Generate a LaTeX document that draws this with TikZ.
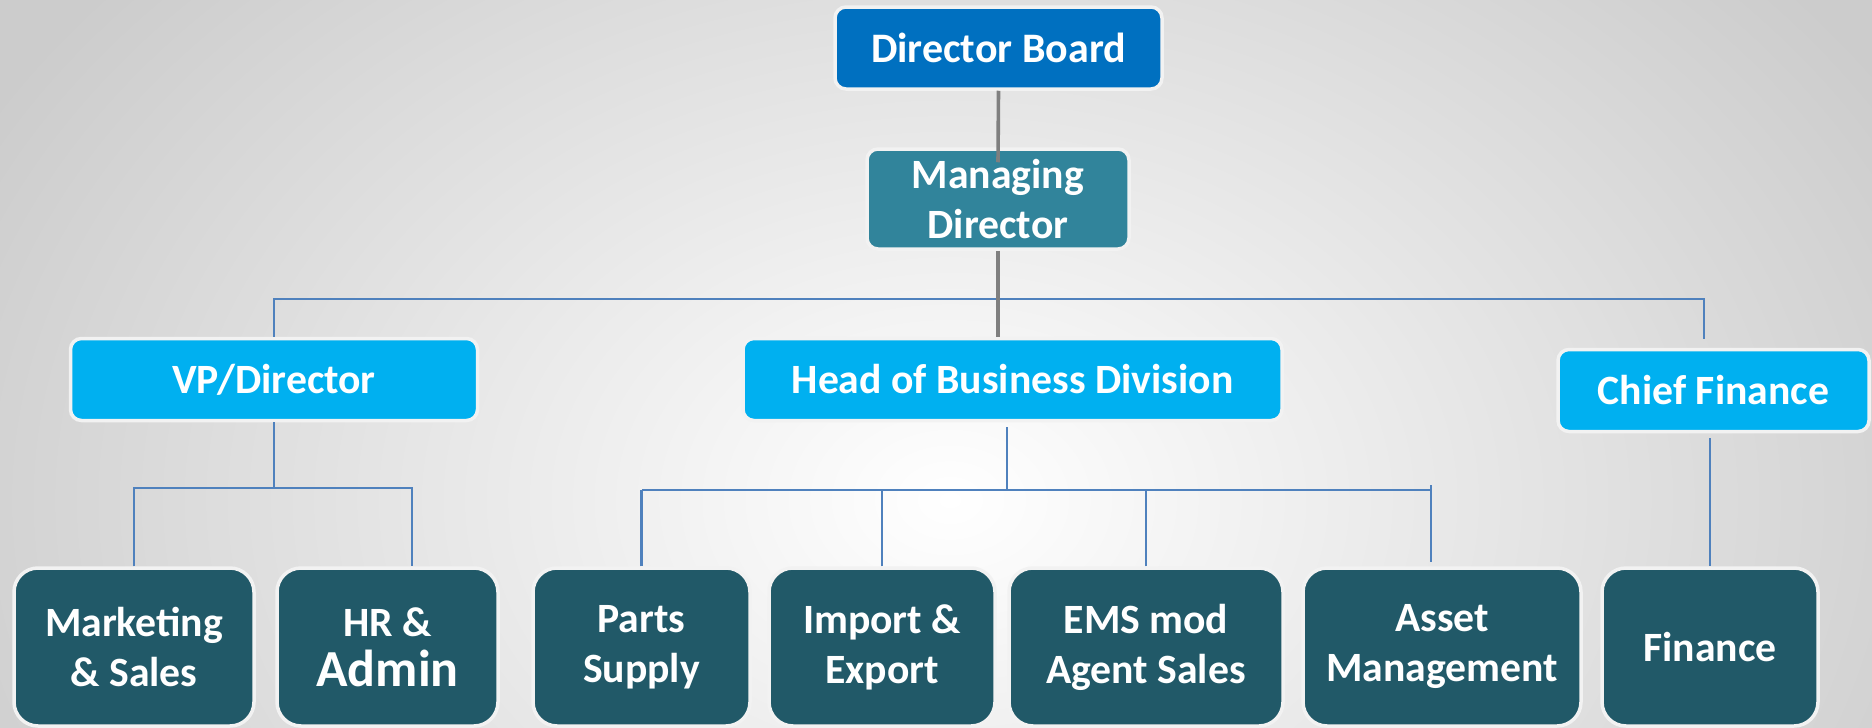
\documentclass[tikz,border=0pt]{standalone}
\usepackage{fontspec}
\setmainfont{Carlito}
\definecolor{dbblue}{HTML}{0070C0}
\definecolor{mdteal}{HTML}{31849B}
\definecolor{midblue}{HTML}{00B0F0}
\definecolor{darkteal}{HTML}{215968}
\definecolor{conblue}{HTML}{4F81BD}
\definecolor{congray}{HTML}{7F7F7F}
\definecolor{boxline}{HTML}{F2F2F2}
\begin{document}
\begin{tikzpicture}[x=1pt,y=-1pt,
  box/.style={draw=boxline, line width=3.5pt, text=white, align=center, inner sep=0pt,
              font=\bfseries\fontsize{41.7}{50}\selectfont},
  topbox/.style={box, rounded corners=11pt, minimum height=82pt},
  lowbox/.style={box, rounded corners=24pt, fill=darkteal, minimum height=158pt},
  bl/.style={draw=conblue, line width=2.6pt},
  gr/.style={draw=congray, line width=3.6pt}]
\useasboundingbox (0,0) rectangle (1872,728);
\begin{scope}
  \clip (0,0) rectangle (1872,728);
  \shade[inner color=white, outer color=gray!40] (-150,-300) rectangle (2050,1300);
\end{scope}

% nodes
\node[topbox, fill=dbblue, minimum width=327pt, font=\bfseries\fontsize{42}{50}\selectfont] (db) at (998.5,48) {Director Board};
\node[topbox, fill=mdteal, minimum width=262pt, minimum height=100pt] (md) at (998,199) {Managing\\Director};
\node[topbox, fill=midblue, minimum width=407pt] (vp) at (274,379.5) {VP/Director};
\node[topbox, fill=midblue, minimum width=539pt] (hbd) at (1012.5,379.5) {Head of Business Division};
\node[topbox, fill=midblue, minimum width=311pt] (cf) at (1713.5,390.5) {Chief Finance};

\node[lowbox, minimum width=240pt] (ms) at (134,647) {Marketing\\\& Sales};
\node[lowbox, minimum width=221pt] (hr) at (387.5,647) {HR \&\\{\fontsize{52}{50}\selectfont Admin}};
\node[lowbox, minimum width=217pt] (ps) at (641.5,647) {Parts\\Supply};
\node[lowbox, minimum width=226pt] (ie) at (882,647) {Import \&\\Export};
\node[lowbox, minimum width=274pt] (ems) at (1146,647) {EMS mod\\Agent Sales};
\node[lowbox, minimum width=278pt] (am) at (1442,647) {Asset\\Management};
\node[lowbox, minimum width=216pt] (fin) at (1710,647) {Finance};

% coordinates
\coordinate (top) at (998,299);
\coordinate (cfdrop) at (1704,339);
\coordinate (vpbus) at (274,488);
\coordinate (hrbus) at (412,488);
\coordinate (hrtop) at (412,566);
\coordinate (hbdbus) at (1007,490);
\coordinate (busL) at (642,490);
\coordinate (busR) at (1431,490);
\coordinate (amtick) at (1431,485);
\coordinate (amtop) at (1431,562);

% connectors
\draw[bl] (vp.north) -- (vp.north |- top) -- (top -| cfdrop) -- (cfdrop);
\draw[bl] (vp.south) -- (vpbus);
\draw[bl] (ms.north) |- (hrbus) -- (hrtop);
\draw[bl] ([yshift=-5pt]hbd.south -| hbdbus) -- (hbdbus);
\draw[bl] (busL) -- (busR);
\draw[bl] (amtick) -- (amtop);
\draw[bl] (ps.north) -- (ps.north |- busL);
\draw[bl] (ie.north) -- (ie.north |- busL);
\draw[bl] (ems.north) -- (ems.north |- busL);
\draw[bl] ([yshift=-5pt]cf.south -| fin.north) -- (fin.north);

\draw[gr] (db.south) -- ([yshift=-15pt]md.north);
\draw[gr] (md.south) -- (md.south |- hbd.north);
\end{tikzpicture}
\end{document}
